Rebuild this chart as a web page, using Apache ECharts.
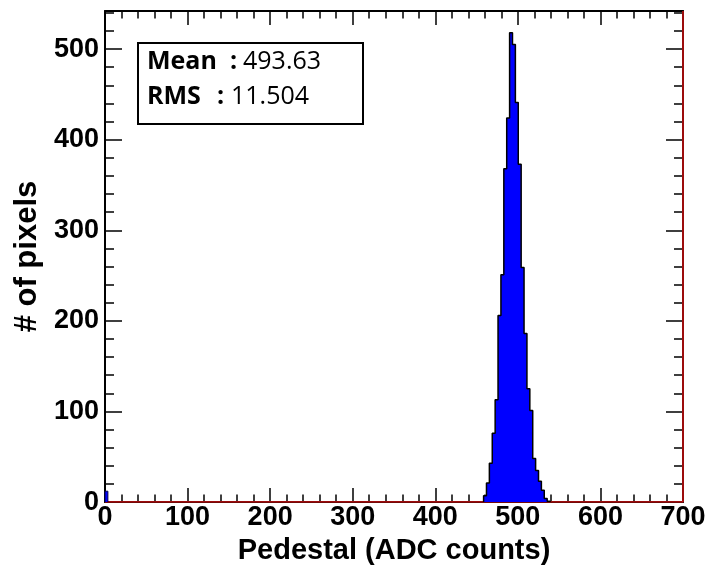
<!DOCTYPE html>
<html>
<head>
<meta charset="utf-8">
<script src="https://cdn.jsdelivr.net/npm/echarts@6/dist/echarts.min.js"></script>
<style>
html,body{margin:0;padding:0;background:#fff;}
#chart{width:714px;height:570px;}
</style>
</head>
<body>
<div id="chart"></div>
<script>
// ---- data ----
var binWidth = 3.5;
var xTicks = [0, 100, 200, 300, 400, 500, 600, 700];
var yTicks = [0, 100, 200, 300, 400, 500];
var xRange = [0, 700];
var yRange = [0, 542];
// low edge of the single bin at zero and its count
var zeroBinLow = [0];
var zeroBinCount = [12];
// peak bins: low edges and counts
var peakBinLow = [458.5, 462, 465.5, 469, 472.5, 476, 479.5, 483, 486.5, 490, 493.5, 497, 500.5, 504, 507.5, 511, 514.5, 518, 521.5, 525, 528.5, 532, 535.5];
var peakCounts = [7, 21, 43, 76, 113, 206, 251, 368, 424, 518, 505, 441, 373, 259, 186, 125, 101, 48, 35, 23, 13, 4, 1];
var statLabels = ['Mean', 'RMS'];
var statValues = ['493.63', '11.504'];
var xTitle = 'Pedestal (ADC counts)';
var yTitle = '# of pixels';

function stepPoints(lows, counts) {
  var pts = [[lows[0], 0]];
  for (var i = 0; i < lows.length; i++) {
    pts.push([lows[i], counts[i]]);
    pts.push([lows[i] + binWidth, counts[i]]);
  }
  pts.push([lows[lows.length - 1] + binWidth, 0]);
  return pts;
}

var labelFont = 'Liberation Sans';
var titleFont = 'Liberation Sans';
var chart = echarts.init(document.getElementById('chart'), null, {renderer: 'canvas'});

function xAx(pos, showLabel, name) {
  return {
    type: 'value', position: pos, min: xRange[0], max: xRange[1], interval: 100,
    axisLine: {show: true, onZero: false, lineStyle: {color: '#000', width: 2}},
    axisTick: {show: true, inside: true, length: 14, lineStyle: {color: '#000', width: 1.5}},
    minorTick: {show: true, splitNumber: 5, length: 7.5, lineStyle: {color: '#000', width: 1.5}},
    splitLine: {show: false}, minorSplitLine: {show: false},
    axisLabel: {show: showLabel, fontFamily: labelFont, fontWeight: 'bold', fontSize: 27, color: '#000', margin: 2,
      formatter: function (v) { return xTicks.indexOf(v) >= 0 ? String(v) : ''; }},
    name: name || '', nameLocation: 'middle', nameGap: 33,
    nameTextStyle: {fontFamily: titleFont, fontWeight: 'bold', fontSize: 29, color: '#000'}
  };
}
function yAx(pos, interval, len, showLabel, showLine, name) {
  return {
    type: 'value', position: pos, min: yRange[0], max: yRange[1], interval: interval,
    axisLine: {show: showLine, onZero: false, lineStyle: {color: '#000', width: 2}},
    axisTick: {show: true, inside: true, length: len, lineStyle: {color: '#000', width: 1.5}},
    minorTick: {show: false},
    splitLine: {show: false},
    axisLabel: {show: showLabel, fontFamily: labelFont, fontWeight: 'bold', fontSize: 27, color: '#000', margin: 6,
      padding: [8, 0, 0, 0], showMaxLabel: false,
      formatter: function (v) { return yTicks.indexOf(v) >= 0 ? String(v) : ''; }},
    name: name || '', nameLocation: 'middle', nameGap: 59, nameRotate: 90,
    nameTextStyle: {fontFamily: titleFont, fontWeight: 'bold', fontSize: 31, color: '#000'}
  };
}

var option = {
  animation: false,
  backgroundColor: '#fff',
  grid: {left: 105, right: 31, top: 11, bottom: 66, containLabel: false},
  xAxis: [xAx('bottom', true, xTitle), xAx('top', false)],
  yAxis: [
    yAx('left', 100, 17, true, true, yTitle),
    yAx('left', 20, 9, false, false),
    yAx('right', 100, 17, false, true),
    yAx('right', 20, 9, false, false)
  ],
  series: [
    {
      type: 'line', xAxisIndex: 0, yAxisIndex: 0, symbol: 'none', silent: true, z: 1,
      lineStyle: {color: '#d01010', width: 1.5},
      data: [[xRange[0], 0], [xRange[1], 0], [xRange[1], yRange[1]]]
    },
    {
      type: 'line', xAxisIndex: 0, yAxisIndex: 0, symbol: 'none', silent: true, z: 3,
      lineStyle: {color: '#000', width: 1.5},
      areaStyle: {color: '#0000ff', opacity: 1},
      data: stepPoints(peakBinLow, peakCounts)
    },
    {
      type: 'line', xAxisIndex: 0, yAxisIndex: 0, symbol: 'none', silent: true, z: 3,
      lineStyle: {color: '#000050', width: 1},
      areaStyle: {color: '#0000ff', opacity: 1},
      data: stepPoints(zeroBinLow, zeroBinCount)
    }
  ],
  graphic: [
    {type: 'rect', shape: {x: 138, y: 43, width: 225, height: 81}, style: {fill: '#fff', stroke: '#000', lineWidth: 2}, z: 10},
    {type: 'text', x: 147, y: 62, style: {text: statLabels[0], font: 'bold 25px "Open Sans"', fill: '#000', verticalAlign: 'middle'}, z: 11},
    {type: 'text', x: 230, y: 62, style: {text: ':', font: 'bold 25px "Open Sans"', fill: '#000', verticalAlign: 'middle'}, z: 11},
    {type: 'text', x: 243, y: 62, style: {text: statValues[0], font: '25px "Open Sans"', fill: '#000', verticalAlign: 'middle'}, z: 11},
    {type: 'text', x: 147, y: 97, style: {text: statLabels[1], font: 'bold 25px "Open Sans"', fill: '#000', verticalAlign: 'middle'}, z: 11},
    {type: 'text', x: 217, y: 97, style: {text: ':', font: 'bold 25px "Open Sans"', fill: '#000', verticalAlign: 'middle'}, z: 11},
    {type: 'text', x: 231, y: 97, style: {text: statValues[1], font: '25px "Open Sans"', fill: '#000', verticalAlign: 'middle'}, z: 11}
  ]
};
chart.setOption(option);
</script>
</body>
</html>
